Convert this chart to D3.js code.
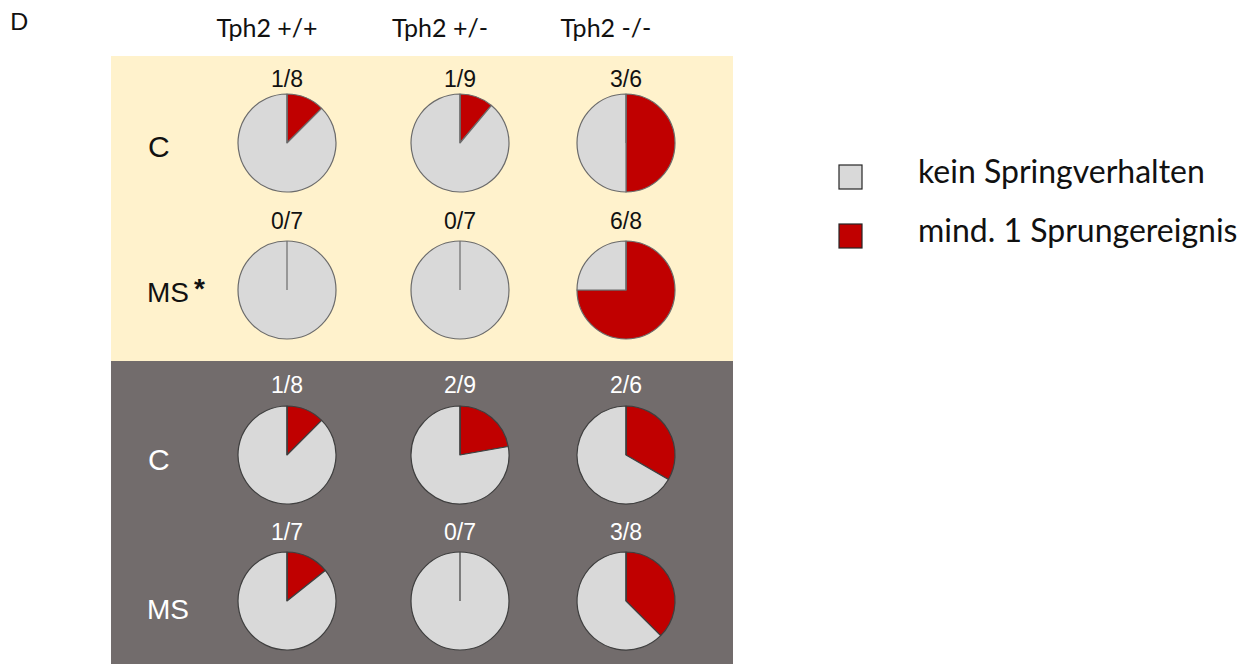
<!DOCTYPE html>
<html>
<head>
<meta charset="utf-8">
<script src="https://cdn.jsdelivr.net/npm/d3@7"></script>
<style>
  html, body { margin: 0; padding: 0; background: #ffffff; }
  svg { display: block; }
</style>
</head>
<body>
<script>
// Genotype columns and the four condition rows (two per light phase)
const genotypes = ["Tph2 +/+", "Tph2 +/-", "Tph2 -/-"];
const rowLabels = ["C", "MS", "C", "MS"];
const rowPhase = ["light", "light", "dark", "dark"];
const rowMarked = [false, true, false, false];

// Animals with at least one jump event / animals tested
const jumpers = [
  [1, 1, 3],
  [0, 0, 6],
  [1, 2, 2],
  [1, 0, 3]
];
const totals = [
  [8, 9, 6],
  [7, 7, 8],
  [8, 9, 6],
  [7, 7, 8]
];

const legendLabels = ["kein Springverhalten", "mind. 1 Sprungereignis"];
const sliceColors = ["#d9d9d9", "#c00000"];

const W = 1246, H = 664;
const svg = d3.select("body").append("svg")
  .attr("width", W).attr("height", H);

// Layout scales
const colX = d3.scaleOrdinal().domain(d3.range(genotypes.length)).range([287, 460, 626]);
const rowY = d3.scaleOrdinal().domain(d3.range(rowLabels.length)).range([143, 290, 455, 601]);
const rowLabelY = d3.scaleOrdinal().domain(d3.range(rowLabels.length)).range([157, 302, 470, 619]);
const labelDy = d3.scaleOrdinal().domain(d3.range(rowLabels.length)).range([-56, -61, -62, -61]);
const phaseFill = d3.scaleOrdinal().domain(["light", "dark"]).range(["#fff2cc", "#726c6c"]);
const phaseText = d3.scaleOrdinal().domain(["light", "dark"]).range(["#111111", "#ffffff"]);
const phaseStroke = d3.scaleOrdinal().domain(["light", "dark"]).range(["#6b6b6b", "#3f3f3f"]);

const R = 49;
const panelX0 = 111, panelX1 = 733;
const bands = [
  { phase: "light", y0: 56, y1: 361 },
  { phase: "dark", y0: 361, y1: 664 }
];

svg.selectAll("rect.band").data(bands).join("rect")
  .attr("class", "band")
  .attr("x", panelX0).attr("y", d => d.y0)
  .attr("width", panelX1 - panelX0).attr("height", d => d.y1 - d.y0)
  .attr("fill", d => phaseFill(d.phase));

// Panel letter
svg.append("text")
  .attr("x", 10).attr("y", 30)
  .attr("font-family", "Lato, 'Open Sans', sans-serif")
  .attr("font-size", 24).attr("fill", "#111")
  .text("D");

// Column headers
svg.selectAll("text.header").data(genotypes).join("text")
  .attr("class", "header")
  .attr("x", (d, i) => colX(i) - 20).attr("y", 37)
  .attr("text-anchor", "middle")
  .attr("font-family", "Lato, 'Open Sans', sans-serif")
  .attr("font-size", 25).attr("fill", "#111")
  .text(d => d);

// Row labels
const rl = svg.selectAll("text.rowlabel").data(rowLabels).join("text")
  .attr("class", "rowlabel")
  .attr("x", 147)
  .attr("y", (d, i) => rowLabelY(i))
  .attr("font-family", "'Liberation Sans', Arial, sans-serif")
  .attr("font-size", 28)
  .attr("fill", (d, i) => phaseText(rowPhase[i]));
rl.each(function(d, i) {
  const t = d3.select(this);
  if (d === "C") t.attr("x", 148).attr("font-size", 30);
  t.append("tspan").text(d);
  if (rowMarked[i]) {
    t.append("tspan").attr("dx", 5).attr("dy", -4)
      .attr("font-weight", "bold").attr("font-size", 28).text("*");
  }
});

const pie = d3.pie().sort(null).value(d => d.v);
const arc = d3.arc().innerRadius(0).outerRadius(R);

const cells = [];
rowLabels.forEach((r, ri) => {
  genotypes.forEach((g, ci) => {
    cells.push({ ri, ci, k: jumpers[ri][ci], n: totals[ri][ci], phase: rowPhase[ri] });
  });
});

const cellG = svg.selectAll("g.cell").data(cells).join("g")
  .attr("class", "cell")
  .attr("transform", d => `translate(${colX(d.ci)},${rowY(d.ri)})`);

cellG.each(function(d) {
  const g = d3.select(this);
  const slices = pie([{ v: d.k, c: sliceColors[1] }, { v: d.n - d.k, c: sliceColors[0] }])
    .filter(s => s.data.v > 0);
  g.selectAll("path").data(slices).join("path")
    .attr("d", arc)
    .attr("fill", s => s.data.c)
    .attr("stroke", phaseStroke(d.phase))
    .attr("stroke-width", 1.2)
    .attr("stroke-linejoin", "round");
  // radial edge at 12 o'clock where the first slice begins
  g.append("line")
    .attr("x1", 0).attr("y1", 0).attr("x2", 0).attr("y2", -R)
    .attr("stroke", phaseStroke(d.phase)).attr("stroke-width", 1.2);
  g.append("text")
    .attr("x", 0).attr("y", labelDy(d.ri))
    .attr("text-anchor", "middle")
    .attr("font-family", "'Liberation Sans', Arial, sans-serif")
    .attr("font-size", 23)
    .attr("fill", phaseText(d.phase))
    .text(`${d.k}/${d.n}`);
});

// Legend
const leg = svg.selectAll("g.legend").data(legendLabels).join("g")
  .attr("class", "legend")
  .attr("transform", (d, i) => `translate(839,${165 + i * 59})`);
leg.append("rect")
  .attr("width", 23).attr("height", 24)
  .attr("fill", (d, i) => sliceColors[i])
  .attr("stroke", "#262626").attr("stroke-width", 1.2);
leg.append("text")
  .attr("x", 79).attr("y", 18)
  .attr("font-family", "Lato, 'Open Sans', sans-serif")
  .attr("font-size", 32).attr("fill", "#111")
  .text(d => d);
</script>
</body>
</html>
